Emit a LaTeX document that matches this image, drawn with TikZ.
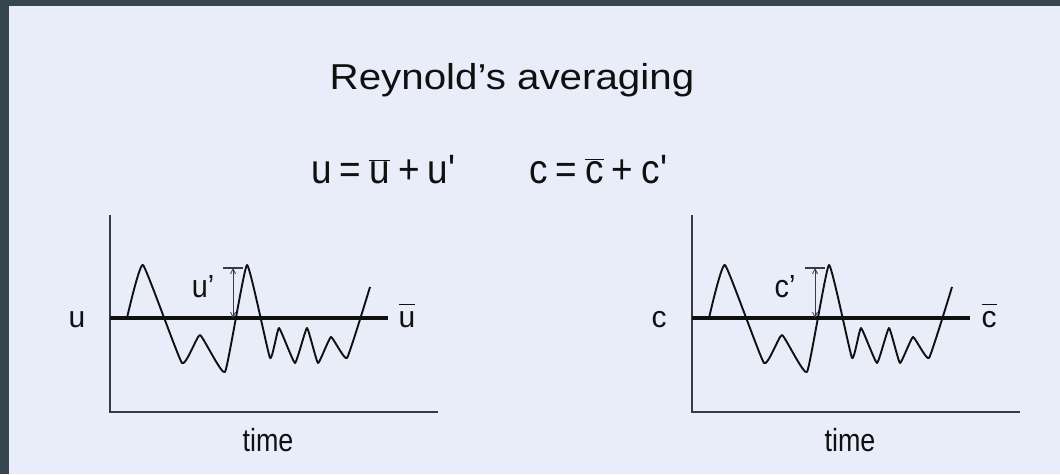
\documentclass[tikz,border=0pt]{standalone}
\usepackage{fontspec}
\setmainfont{Liberation Sans}
\usetikzlibrary{arrows.meta}
\definecolor{bgc}{HTML}{E8EDF9}
\definecolor{framec}{HTML}{37474F}
\definecolor{inkc}{HTML}{101010}
\definecolor{axisc}{HTML}{3A3A44}
\newcommand{\gapeq}{\hspace{9pt}}
\begin{document}
\begin{tikzpicture}[x=1pt,y=-1pt,
  lbl/.style={font=\fontsize{30}{32}\selectfont, text=inkc, inner sep=0pt},
  eqlbl/.style={font=\fontsize{41}{46}\selectfont, text=inkc, inner sep=0pt, anchor=base west},
  axisline/.style={draw=axisc, line width=1.3pt},
  meanline/.style={draw=inkc, line width=3.8pt},
  waveline/.style={draw=inkc, line width=1.9pt, line join=round},
  fluct/.style={draw=axisc, line width=0.8pt, {Straight Barb[length=5pt,width=5pt]}-{Straight Barb[length=5pt,width=5pt]}},
  tickbar/.style={draw=axisc, line width=1.6pt}]
\fill[framec] (0,0) rectangle (1060,474);
\fill[bgc] (9,6) rectangle (1060,474);
\useasboundingbox (0,0) rectangle (1060,474);

\node[lbl, font=\fontsize{36}{40}\selectfont, anchor=base] (title) at (512,89) {\scalebox{1.12}[1]{Reynold’s averaging}};

\node[eqlbl] (equ) at (311,183)
  {\scalebox{0.9}[1]{u\gapeq=\gapeq$\overline{\hbox{u}}$\gapeq+\gapeq u\textquotesingle}};
\node[eqlbl] (eqc) at (529,183)
  {\scalebox{0.9}[1]{c\gapeq=\gapeq$\overline{\hbox{c}}$\gapeq+\gapeq c\textquotesingle}};

\foreach \dx/\v in {0/u, 582/c} {
\begin{scope}[xshift=\dx]
  \coordinate (top\v) at (110,215);
  \coordinate (org\v) at (110,412);
  \coordinate (end\v) at (438,412);
  \coordinate (m0\v) at (110,318);
  \coordinate (m1\v) at (388,318);
  \draw[axisline] (top\v) -- (org\v) -- (end\v);
  \draw[meanline] (m0\v) -- (m1\v);
  \draw[waveline] plot[smooth, tension=0.22] coordinates {(127,318) (143,265) (182,363) (200,335) (225,372) (247,265) (270,358) (279,328) (295,363) (307,328) (318,363) (331,337) (347,358) (370,287)};
  \coordinate (at\v) at (233,268);
  \coordinate (ab\v) at (233,318);
  \coordinate (bl\v) at (223,268);
  \coordinate (br\v) at (243,268);
  \draw[tickbar] (bl\v) -- (br\v);
  \draw[fluct] (at\v) -- (ab\v);
  \node[lbl, anchor=base] (name\v) at (77,327) {\v};
  \node[lbl, anchor=base] (mean\v) at (407,327) {$\overline{\hbox{\vphantom{l}\v}}$};
  \node[lbl, font=\fontsize{32}{34}\selectfont, anchor=base] (prime\v) at (203,297) {\scalebox{0.9}[1]{\v’}};
  \node[lbl, font=\fontsize{32}{34}\selectfont, anchor=base] (time\v) at (268,451) {\scalebox{0.84}[1]{time}};
\end{scope}
}
\end{tikzpicture}
\end{document}
